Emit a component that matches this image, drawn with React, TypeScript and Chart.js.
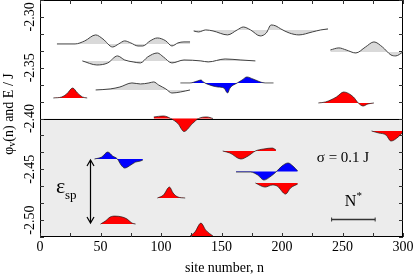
import React, { useEffect, useRef } from 'react';
import { Chart, registerables } from 'chart.js';

Chart.register(...registerables);

// ---- axes ----
const X_MIN = 0;
const X_MAX = 300;
const Y_MIN = -2.516667;
const Y_MAX = -2.283333;
const xTickStep = 25;
const xTickLabels = [0, 50, 100, 150, 200, 250, 300];
const yTickStep = 0.05 / 3;
const yTickLabels = [-2.3, -2.35, -2.4, -2.45, -2.5];
const BOUNDARY = -2.4;

// ---- gray (extended) states: site n, energy E ----
const g1Base = -2.3266;
const g1N = [14, 29, 37, 46, 52, 60, 65, 70, 75, 81, 85, 91, 97, 104, 109, 114, 119, 124];
const g1E = [-2.3266, -2.3266, -2.3236, -2.3177, -2.3217, -2.3296, -2.3266, -2.3236, -2.3256, -2.3286, -2.3286, -2.3236, -2.3207, -2.3236, -2.3286, -2.3256, -2.3246, -2.3246];

const g2Base = -2.3433;
const g2N = [35, 47, 56, 64, 70, 77, 83, 89, 97, 102, 109, 119, 133, 139, 153, 166, 178];
const g2E = [-2.3433, -2.3473, -2.3453, -2.3384, -2.3424, -2.3443, -2.3453, -2.3394, -2.3355, -2.3394, -2.3453, -2.3424, -2.3433, -2.3443, -2.3414, -2.3424, -2.3433];

const g3Base = -2.3719;
const g3N = [46, 58, 66, 76, 83, 90, 94, 98, 104, 109, 116, 124];
const g3E = [-2.3719, -2.3709, -2.369, -2.365, -2.366, -2.365, -2.364, -2.367, -2.3709, -2.3749, -2.3739, -2.3719];

const g4Base = -2.3128;
const g4N = [127, 131, 137, 143, 155, 163, 168, 174, 182, 187, 191, 195, 199, 206, 214, 225, 232, 238];
const g4E = [-2.3138, -2.3148, -2.3128, -2.3138, -2.3177, -2.3128, -2.3099, -2.3128, -2.3187, -2.3158, -2.3079, -2.3089, -2.3118, -2.3158, -2.3177, -2.3148, -2.3128, -2.3118];

const g5Base = -2.3345;
const g5N = [240, 247, 253, 261, 269, 276, 283, 290, 294, 300];
const g5E = [-2.3325, -2.3305, -2.3325, -2.3355, -2.3296, -2.3246, -2.3296, -2.3374, -2.3384, -2.3345];

// ---- localized states (red / blue) ----
const b1Base = -2.365;
const b1N = [116, 124, 130, 133, 135, 138, 147, 152, 155, 157, 163, 167, 171, 176, 186, 193];
const b1E = [-2.365, -2.365, -2.3631, -2.3621, -2.364, -2.366, -2.369, -2.37, -2.3749, -2.37, -2.365, -2.3621, -2.3591, -2.3611, -2.365, -2.365];

const r1Base = -2.3798;
const r1N = [11, 18, 22, 27, 31, 35, 39];
const r1E = [-2.3798, -2.3788, -2.3759, -2.37, -2.3749, -2.3788, -2.3798];

const r2Base = -2.3847;
const r2N = [230, 236, 245, 251, 259, 263, 267, 271, 276];
const r2E = [-2.3847, -2.3837, -2.3788, -2.3739, -2.3788, -2.3847, -2.3877, -2.3857, -2.3847];

const r3Base = -2.4;
const r3N = [94, 102, 108, 114, 119, 126, 131, 138, 143];
const r3E = [-2.3985, -2.3975, -2.4, -2.405, -2.4128, -2.405, -2.4, -2.3985, -2.4];

const r4Base = -2.4123;
const r4N = [274, 280, 286, 290, 296, 300];
const r4E = [-2.4123, -2.4143, -2.4163, -2.4222, -2.4182, -2.4133];

const b2Base = -2.4399;
const b2N = [45, 51, 56, 60, 64, 67, 70, 75, 79, 83, 85];
const b2E = [-2.4399, -2.4379, -2.433, -2.4369, -2.4399, -2.4458, -2.4488, -2.4458, -2.4429, -2.4419, -2.4409];

const r5Base = -2.5039;
const r5N = [50, 54, 58, 62, 68, 72, 76, 79];
const r5E = [-2.5039, -2.501, -2.497, -2.4961, -2.497, -2.499, -2.503, -2.5039];

const r6Base = -2.4783;
const r6N = [97, 102, 107, 110, 114, 120];
const r6E = [-2.4783, -2.4754, -2.4675, -2.4734, -2.4773, -2.4783];

const r7Base = -2.5158;
const r7N = [124, 128, 133, 137, 143];
const r7E = [-2.5158, -2.5118, -2.503, -2.5099, -2.5158];

const r8Base = -2.432;
const r8N = [151, 157, 166, 172, 178, 185, 192, 195];
const r8E = [-2.432, -2.434, -2.4399, -2.4369, -2.432, -2.43, -2.4291, -2.431];

const b3Base = -2.4522;
const b3N = [162, 174, 180, 185, 191, 195, 200, 205, 209, 213];
const b3E = [-2.4527, -2.4527, -2.4557, -2.4606, -2.4567, -2.4527, -2.4468, -2.4438, -2.4468, -2.4517];

const r9Base = -2.4635;
const r9N = [178, 186, 192, 196, 203, 207, 213];
const r9E = [-2.4635, -2.4675, -2.4655, -2.4665, -2.4744, -2.4685, -2.4645];

// ---- annotations ----
const arrowN = 41.5;
const arrowTop = -2.4399;
const arrowBottom = -2.5039;
const nStarStart = 241;
const nStarLength = 36;
const nStarE = -2.499;
const sigmaText = 'σ = 0.1 J';

const SERIF = '"Liberation Serif", "DejaVu Serif", serif';

type Part = { t: string; size: number; dy: number };

function drawParts(ctx: CanvasRenderingContext2D, parts: Part[], cx: number, cy: number) {
  let total = 0;
  const widths = parts.map((p) => {
    ctx.font = `${p.size}px ${SERIF}`;
    const w = ctx.measureText(p.t).width;
    total += w;
    return w;
  });
  let xx = cx - total / 2;
  parts.forEach((p, i) => {
    ctx.font = `${p.size}px ${SERIF}`;
    ctx.fillText(p.t, xx, cy + p.dy);
    xx += widths[i];
  });
}

const decorPlugin = {
  id: 'decor',
  beforeDatasetsDraw(chart: any) {
    const { ctx, chartArea: a, scales } = chart;
    const y = scales.y;
    const yb = y.getPixelForValue(BOUNDARY);
    ctx.save();
    ctx.fillStyle = '#ececec';
    ctx.fillRect(a.left, yb, a.right - a.left, a.bottom - yb);
    ctx.strokeStyle = '#000';
    ctx.lineWidth = 1;
    ctx.beginPath();
    ctx.moveTo(a.left, Math.round(yb) + 0.5);
    ctx.lineTo(a.right, Math.round(yb) + 0.5);
    ctx.stroke();
    ctx.restore();
  },
  afterDatasetsDraw(chart: any) {
    const { ctx, chartArea: a, scales } = chart;
    const x = scales.x;
    const y = scales.y;
    ctx.save();
    // frame
    ctx.strokeStyle = '#000';
    ctx.lineWidth = 1;
    ctx.strokeRect(a.left + 0.5, a.top + 0.5, a.right - a.left - 1, a.bottom - a.top - 1);
    // ticks
    ctx.strokeStyle = '#333';
    ctx.beginPath();
    for (let v = X_MIN; v <= X_MAX + 1e-9; v += xTickStep) {
      const px = Math.round(x.getPixelForValue(v)) + 0.5;
      ctx.moveTo(px, a.top);
      ctx.lineTo(px, a.top + 4);
      ctx.moveTo(px, a.bottom);
      ctx.lineTo(px, a.bottom - 4);
    }
    for (let k = 0; k <= 14; k++) {
      const v = Y_MIN + k * yTickStep;
      const py = Math.round(y.getPixelForValue(v)) + 0.5;
      ctx.moveTo(a.left, py);
      ctx.lineTo(a.left + 4, py);
      ctx.moveTo(a.right, py);
      ctx.lineTo(a.right - 4, py);
    }
    ctx.stroke();

    ctx.fillStyle = '#000';
    // x tick labels
    ctx.font = `14px ${SERIF}`;
    ctx.textAlign = 'center';
    ctx.textBaseline = 'middle';
    xTickLabels.forEach((v) => {
      ctx.fillText(String(v), x.getPixelForValue(v), 247);
    });
    // y tick labels (rotated)
    yTickLabels.forEach((v) => {
      const py = y.getPixelForValue(v);
      ctx.save();
      ctx.translate(30, py);
      ctx.rotate(-Math.PI / 2);
      ctx.textAlign = 'center';
      ctx.textBaseline = 'middle';
      ctx.fillText(v.toFixed(2), 0, 0);
      ctx.restore();
    });
    // x title
    ctx.textAlign = 'center';
    ctx.textBaseline = 'alphabetic';
    ctx.fillText('site number, n', (a.left + a.right) / 2 + 3, 272);
    // y title
    ctx.save();
    ctx.translate(9, 114);
    ctx.rotate(-Math.PI / 2);
    ctx.textAlign = 'left';
    ctx.textBaseline = 'middle';
    drawParts(ctx, [
      { t: 'φ', size: 14, dy: 0 },
      { t: 'v', size: 10, dy: 3 },
      { t: '(n) and E / J', size: 14, dy: 0 },
    ], 0, 0);
    ctx.restore();

    // sigma text
    ctx.textAlign = 'left';
    ctx.textBaseline = 'alphabetic';
    ctx.font = `15px ${SERIF}`;
    const sw = ctx.measureText(sigmaText).width;
    ctx.fillText(sigmaText, 343 - sw / 2 + 0, 162);

    // N* scale bar
    const x0 = x.getPixelForValue(nStarStart);
    const x1 = x.getPixelForValue(nStarStart + nStarLength);
    const yb = Math.round(y.getPixelForValue(nStarE)) + 0.5;
    ctx.strokeStyle = '#333';
    ctx.lineWidth = 1.6;
    ctx.beginPath();
    ctx.moveTo(x0, yb);
    ctx.lineTo(x1, yb);
    ctx.stroke();
    ctx.lineWidth = 1;
    ctx.beginPath();
    ctx.moveTo(x0, yb - 2);
    ctx.lineTo(x0, yb + 2);
    ctx.moveTo(x1, yb - 2);
    ctx.lineTo(x1, yb + 2);
    ctx.stroke();
    ctx.textAlign = 'left';
    drawParts(ctx, [
      { t: 'N', size: 16, dy: 0 },
      { t: '*', size: 11, dy: -7 },
    ], (x0 + x1) / 2, 206);

    // epsilon_sp arrow
    const ax = Math.round(x.getPixelForValue(arrowN)) + 0.5;
    const ay0 = y.getPixelForValue(arrowTop);
    const ay1 = y.getPixelForValue(arrowBottom);
    ctx.strokeStyle = '#000';
    ctx.lineWidth = 1.2;
    ctx.beginPath();
    ctx.moveTo(ax, ay0 + 1);
    ctx.lineTo(ax, ay1 - 1);
    ctx.moveTo(ax - 3.5, ay0 + 7);
    ctx.lineTo(ax, ay0 + 1);
    ctx.lineTo(ax + 3.5, ay0 + 7);
    ctx.moveTo(ax - 3.5, ay1 - 7);
    ctx.lineTo(ax, ay1 - 1);
    ctx.lineTo(ax + 3.5, ay1 - 7);
    ctx.stroke();
    ctx.textAlign = 'left';
    ctx.font = `22px ${SERIF}`;
    ctx.fillText('ε', 56, 193);
    ctx.font = `13px ${SERIF}`;
    ctx.fillText('sp', 65, 199);
    ctx.restore();
  },
};

function makeSet(n: number[], e: number[], base: number, kind: 'gray' | 'red' | 'blue') {
  const fillColor = kind === 'gray' ? '#d9d9d9' : kind === 'red' ? '#ff0000' : '#0000ff';
  const line = kind === 'gray' ? '#404040' : '#1a1a1a';
  return {
    data: n.map((v, i) => ({ x: v, y: e[i] })),
    borderColor: line,
    backgroundColor: fillColor,
    borderWidth: kind === 'gray' ? 1 : 0.7,
    pointRadius: 0,
    cubicInterpolationMode: 'monotone' as const,
    fill: { value: base },
  };
}

export default function App() {
  const ref = useRef<HTMLCanvasElement | null>(null);
  useEffect(() => {
    document.body.style.margin = '0';
    const canvas = ref.current;
    if (!canvas) return;
    const chart = new Chart(canvas, {
      type: 'line',
      data: {
        datasets: [
          makeSet(g1N, g1E, g1Base, 'gray'),
          makeSet(g2N, g2E, g2Base, 'gray'),
          makeSet(g3N, g3E, g3Base, 'gray'),
          makeSet(g4N, g4E, g4Base, 'gray'),
          makeSet(g5N, g5E, g5Base, 'gray'),
          makeSet(b1N, b1E, b1Base, 'blue'),
          makeSet(r1N, r1E, r1Base, 'red'),
          makeSet(r2N, r2E, r2Base, 'red'),
          makeSet(r3N, r3E, r3Base, 'red'),
          makeSet(r4N, r4E, r4Base, 'red'),
          makeSet(b2N, b2E, b2Base, 'blue'),
          makeSet(r5N, r5E, r5Base, 'red'),
          makeSet(r6N, r6E, r6Base, 'red'),
          makeSet(r7N, r7E, r7Base, 'red'),
          makeSet(r8N, r8E, r8Base, 'red'),
          makeSet(b3N, b3E, b3Base, 'blue'),
          makeSet(r9N, r9E, r9Base, 'red'),
        ] as any,
      },
      options: {
        animation: false,
        responsive: false,
        devicePixelRatio: 1,
        layout: { padding: { left: 40, right: 12, top: 0, bottom: 38 } },
        scales: {
          x: { type: 'linear', min: X_MIN, max: X_MAX, display: false },
          y: { type: 'linear', min: Y_MIN, max: Y_MAX, display: false },
        },
        plugins: { legend: { display: false }, tooltip: { enabled: false } },
        events: [],
      },
      plugins: [decorPlugin],
    });
    return () => chart.destroy();
  }, []);
  return <canvas ref={ref} width={415} height={275} style={{ display: 'block' }} />;
}
